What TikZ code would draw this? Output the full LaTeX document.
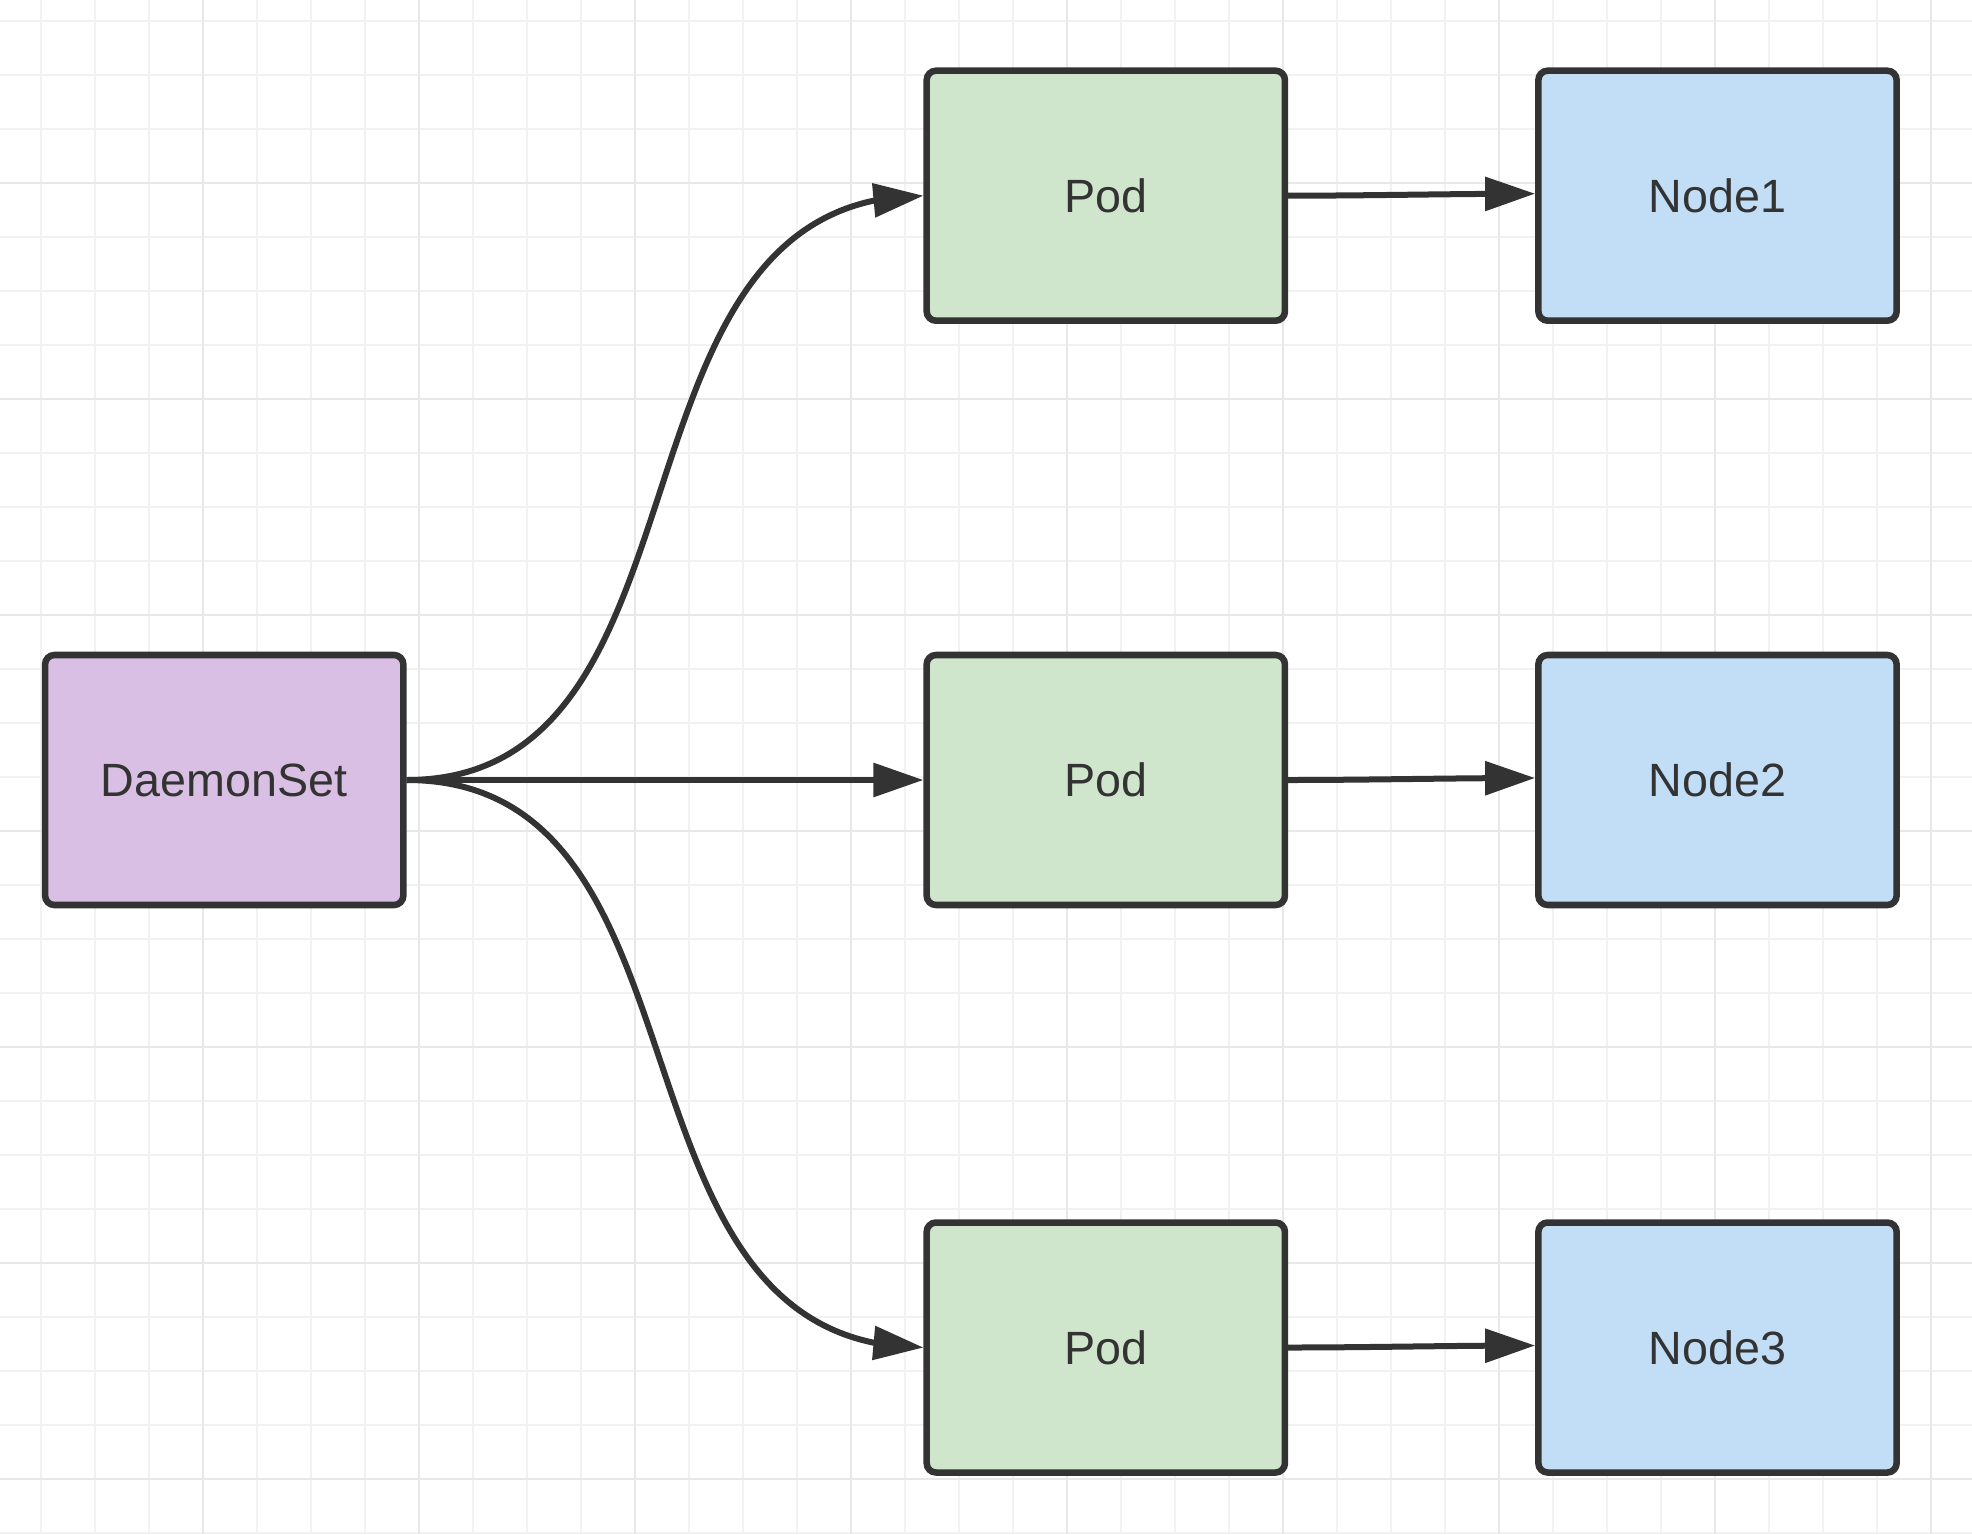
\documentclass[tikz,border=0pt]{standalone}
\usepackage{fontspec}
\setmainfont{Liberation Sans}
\usetikzlibrary{arrows.meta,bending,calc}
\definecolor{ink}{HTML}{333333}
\definecolor{dsfill}{RGB}{218,191,228}
\definecolor{podfill}{RGB}{207,229,204}
\definecolor{nodefill}{RGB}{194,221,246}
\definecolor{gridminor}{HTML}{F2F2F2}
\definecolor{gridmajor}{HTML}{E8E8E8}
\begin{document}
\begin{tikzpicture}[x=0.75pt,y=-0.75pt,
  box/.style={draw=ink,line width=4.9pt,rounded corners=7pt,minimum width=268.7pt,minimum height=187.5pt,inner sep=0pt,text=ink,font=\fontsize{35pt}{40pt}\selectfont},
  conn/.style={draw=ink,line width=4.5pt,-{Triangle[length=37.5pt,width=24.75pt,flex]}},
  gminor/.style={draw=gridminor,line width=1.2pt},
  gmajor/.style={draw=gridmajor,line width=1.6pt}]
\fill[white] (0,0) rectangle (1972,1534);
\useasboundingbox (0,0) rectangle (1972,1534);
% grid
\foreach \k in {0,...,35} {\draw[gminor] ({41+54*\k},0) -- ({41+54*\k},1534);}
\foreach \k in {0,...,28} {\draw[gminor] (0,{21+54*\k}) -- (1972,{21+54*\k});}
\foreach \x in {203,419,...,1931} {\draw[gmajor] (\x,0) -- (\x,1534);}
\foreach \y in {183,399,...,1479} {\draw[gmajor] (0,\y) -- (1972,\y);}
% nodes
\node[box,fill=dsfill] (ds) at (224.2,780) {DaemonSet};
\node[box,fill=podfill] (p1) at (1105.8,195.7) {Pod};
\node[box,fill=podfill] (p2) at (1105.8,780) {Pod};
\node[box,fill=podfill] (p3) at (1105.8,1347.5) {Pod};
\node[box,fill=nodefill] (n1) at (1717.5,195.7) {Node1};
\node[box,fill=nodefill] (n2) at (1717.5,780) {Node2};
\node[box,fill=nodefill] (n3) at (1717.5,1347.5) {Node3};
% connectors
\draw[conn] (ds.east) .. controls +(320,0) and +(-330,0) .. (p1.west);
\draw[conn] (ds.east) -- (p2.west);
\draw[conn] (ds.east) .. controls +(320,0) and +(-330,0) .. (p3.west);
\draw[conn] (p1.east) .. controls +(80,0) and +(-80,0) .. ($(n1.west)+(0,-2)$);
\draw[conn] (p2.east) .. controls +(80,0) and +(-80,0) .. ($(n2.west)+(0,-2)$);
\draw[conn] (p3.east) .. controls +(80,0) and +(-80,0) .. ($(n3.west)+(0,-2)$);
\end{tikzpicture}
\end{document}
